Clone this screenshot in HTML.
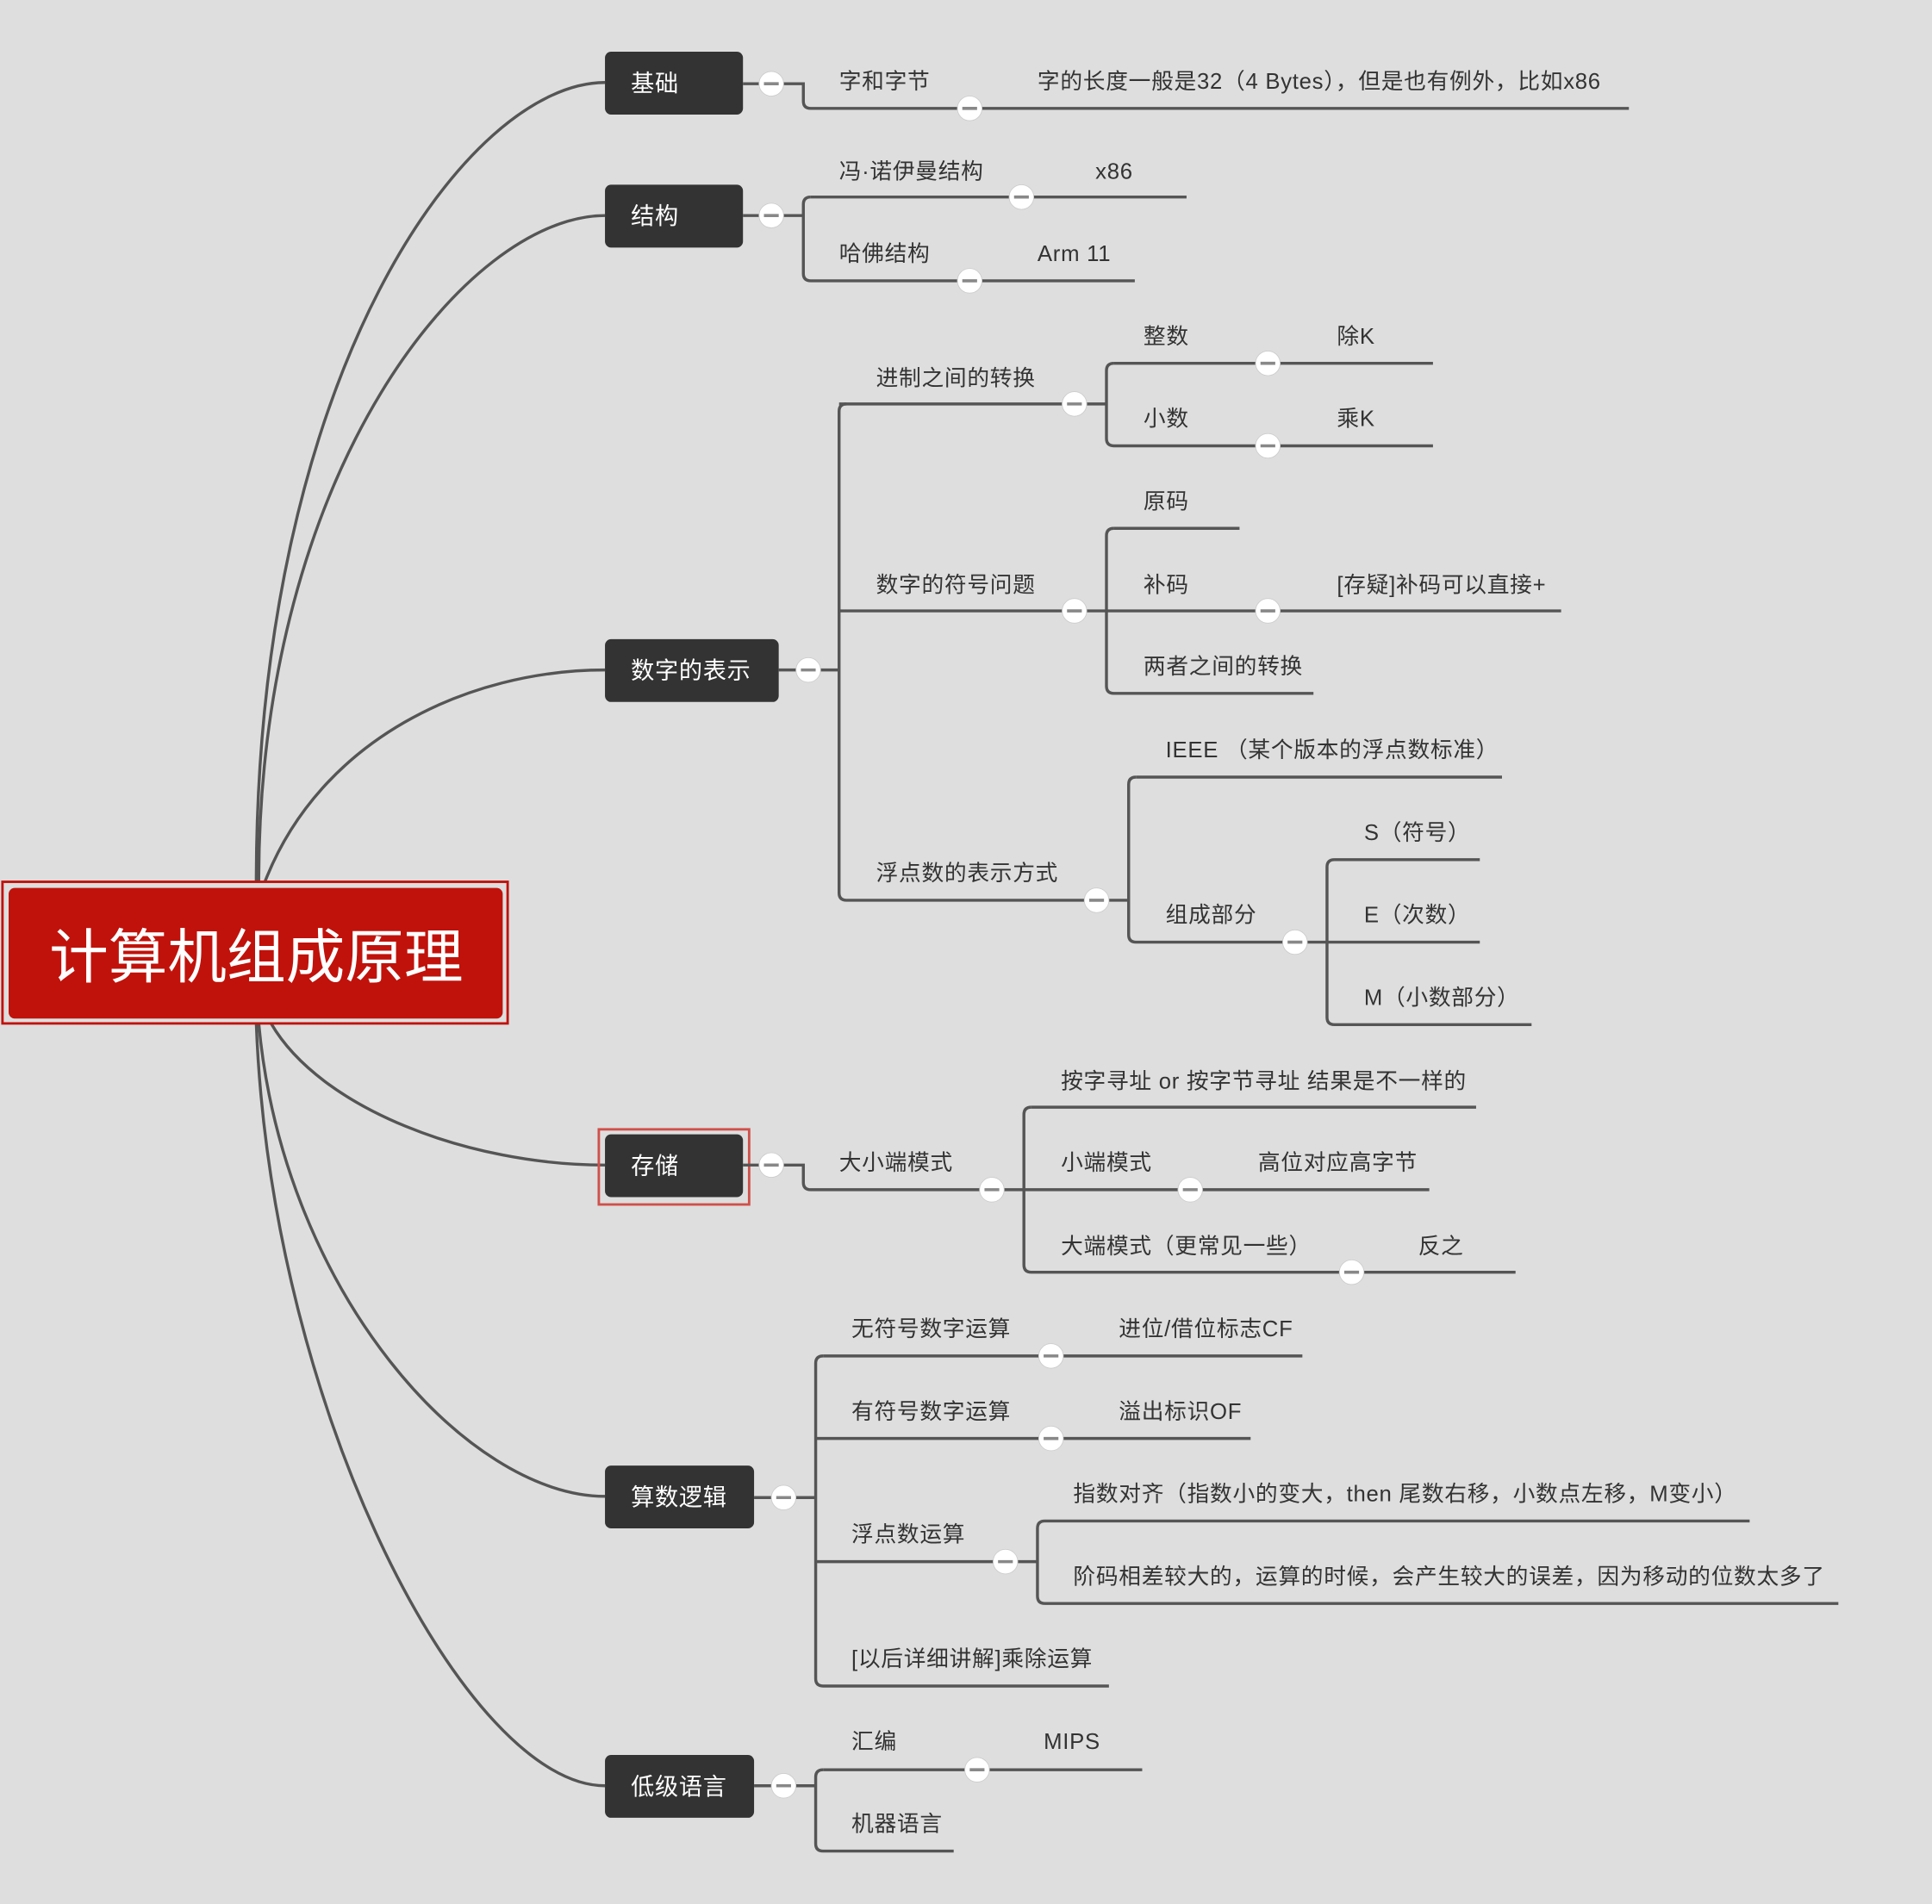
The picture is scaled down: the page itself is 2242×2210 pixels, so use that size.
<!DOCTYPE html>
<html><head><meta charset="utf-8"><style>
html,body{margin:0;padding:0;background:#dedede;}
svg{display:block}
text{font-family:"Liberation Sans","Noto Sans CJK SC",sans-serif;}
.t{font-size:18px;fill:#333;letter-spacing:0.5px}
.b{font-size:19px;fill:#fff;letter-spacing:0.5px}
.l{fill:none;stroke:#555;stroke-width:2.4}
</style></head><body>
<svg width="2242" height="2210" viewBox="0 0 1568 1546" preserveAspectRatio="none" xmlns="http://www.w3.org/2000/svg">
<defs>
<g id="m"><circle r="10" fill="#fff" stroke="#ccc" stroke-width="0.6"/><line x1="-6" y1="0" x2="6" y2="0" stroke="#888" stroke-width="2.5"/></g>
</defs>
<rect width="1568" height="1546" fill="#dedede"/>
<g class="l" stroke-width="2.6">
<path d="M208,716 C208,300 380,67 491,67"/>
<path d="M210,716 C210,380 380,175 491,175"/>
<path d="M215,716 C260,600 380,544 491,544"/>
<path d="M220,831 C260,900 380,946 491,946"/>
<path d="M210,831 C230,1050 380,1215 491,1215"/>
<path d="M208,831 C220,1150 380,1450 491,1450"/>
</g>
<rect x="2" y="716" width="410" height="115" fill="none" stroke="#c0120b" stroke-width="2"/>
<rect x="7" y="721" width="401" height="106" rx="5" fill="#c0120b"/>
<text x="40" y="794" style="font-size:48px;fill:#fff">计算机组成原理</text>
<rect x="491" y="42" width="112" height="51" rx="5" fill="#333"/><text class="b" x="512" y="74">基础</text>
<rect x="491" y="150" width="112" height="51" rx="5" fill="#333"/><text class="b" x="512" y="182">结构</text>
<rect x="491" y="519" width="141" height="51" rx="5" fill="#333"/><text class="b" x="512" y="551">数字的表示</text>
<rect x="486" y="917" width="122" height="61" fill="none" stroke="#d0504a" stroke-width="2"/>
<rect x="491" y="921" width="112" height="51" rx="5" fill="#333"/><text class="b" x="512" y="953">存储</text>
<rect x="491" y="1190" width="121" height="51" rx="5" fill="#333"/><text class="b" x="512" y="1222">算数逻辑</text>
<rect x="491" y="1425" width="121" height="51" rx="5" fill="#333"/><text class="b" x="512" y="1457">低级语言</text>

<g class="l">
<path d="M603,68 H652 V82 Q652,88 658,88 H1322"/>
<path d="M603,175 H652"/>
<path d="M658,160 Q652,160 652,166 V222 Q652,228 658,228 H921"/>
<path d="M658,160 H963"/>
<path d="M632,544 H681"/>
<path d="M687,328 Q681,328 681,334 V725 Q681,731 687,731 H890"/>
<path d="M681,496 H872"/><path d="M681,328 H872"/>
<path d="M872,328 H898"/>
<path d="M904,295 Q898,295 898,301 V356 Q898,362 904,362 H1163"/>
<path d="M904,295 H1163"/>
<path d="M872,496 H898"/>
<path d="M904,429 Q898,429 898,435 V557 Q898,563 904,563 H1066"/>
<path d="M904,429 H1006"/>
<path d="M898,496 H1267"/>
<path d="M890,731 H916"/>
<path d="M922,631 Q916,631 916,637 V759 Q916,765 922,765 H1051"/>
<path d="M922,631 H1219"/>
<path d="M1051,765 H1077"/>
<path d="M1083,698 Q1077,698 1077,704 V826 Q1077,832 1083,832 H1243"/>
<path d="M1083,698 H1201"/>
<path d="M1077,765 H1201"/>
<path d="M603,946 H652 V960 Q652,966 658,966 H805"/>
<path d="M805,966 H831"/>
<path d="M837,899 Q831,899 831,905 V1027 Q831,1033 837,1033 H1230"/>
<path d="M837,899 H1198"/>
<path d="M831,966 H1160"/>
<path d="M612,1216 H662"/>
<path d="M668,1101 Q662,1101 662,1107 V1363 Q662,1369 668,1369 H900"/>
<path d="M668,1101 H1057"/>
<path d="M662,1168 H1015"/>
<path d="M662,1268 H816"/>
<path d="M816,1268 H842"/>
<path d="M848,1235 Q842,1235 842,1241 V1296 Q842,1302 848,1302 H1492"/>
<path d="M848,1235 H1420"/>
<path d="M612,1450 H662"/>
<path d="M668,1437 Q662,1437 662,1443 V1497 Q662,1503 668,1503 H774"/>
<path d="M668,1437 H927"/>
</g>

<use href="#m" x="626" y="68"/><use href="#m" x="787" y="88"/>
<use href="#m" x="626" y="175"/><use href="#m" x="829" y="160"/><use href="#m" x="787" y="228"/>
<use href="#m" x="656" y="544"/><use href="#m" x="872" y="328"/><use href="#m" x="1029" y="295"/><use href="#m" x="1029" y="362"/>
<use href="#m" x="872" y="496"/><use href="#m" x="1029" y="496"/><use href="#m" x="890" y="731"/><use href="#m" x="1051" y="765"/>
<use href="#m" x="626" y="946"/><use href="#m" x="805" y="966"/><use href="#m" x="966" y="966"/><use href="#m" x="1097" y="1033"/>
<use href="#m" x="636" y="1216"/><use href="#m" x="853" y="1101"/><use href="#m" x="853" y="1168"/><use href="#m" x="816" y="1268"/>
<use href="#m" x="636" y="1450"/><use href="#m" x="793" y="1437"/>

<g class="t">
<text x="681" y="72">字和字节</text>
<text x="842" y="72">字的长度一般是32（4 Bytes），但是也有例外，比如x86</text>
<text x="681" y="145">冯·诺伊曼结构</text><text x="889" y="145">x86</text>
<text x="681" y="212">哈佛结构</text><text x="842" y="212">Arm 11</text>
<text x="711" y="313">进制之间的转换</text>
<text x="928" y="279">整数</text><text x="1085" y="279">除K</text>
<text x="928" y="346">小数</text><text x="1085" y="346">乘K</text>
<text x="711" y="481">数字的符号问题</text>
<text x="928" y="413">原码</text>
<text x="928" y="481">补码</text><text x="1085" y="481">[存疑]补码可以直接+</text>
<text x="928" y="547">两者之间的转换</text>
<text x="711" y="715">浮点数的表示方式</text>
<text x="946" y="615">IEEE （某个版本的浮点数标准）</text>
<text x="946" y="749">组成部分</text>
<text x="1107" y="682">S（符号）</text>
<text x="1107" y="749">E（次数）</text>
<text x="1107" y="816">M（小数部分）</text>
<text x="681" y="950">大小端模式</text>
<text x="861" y="884">按字寻址 or 按字节寻址 结果是不一样的</text>
<text x="861" y="950">小端模式</text><text x="1021" y="950">高位对应高字节</text>
<text x="861" y="1018">大端模式（更常见一些）</text><text x="1151" y="1018">反之</text>
<text x="691" y="1085">无符号数字运算</text><text x="908" y="1085">进位/借位标志CF</text>
<text x="691" y="1152">有符号数字运算</text><text x="908" y="1152">溢出标识OF</text>
<text x="691" y="1252">浮点数运算</text>
<text x="871" y="1219">指数对齐（指数小的变大，then 尾数右移，小数点左移，M变小）</text>
<text x="871" y="1286">阶码相差较大的，运算的时候，会产生较大的误差，因为移动的位数太多了</text>
<text x="691" y="1353">[以后详细讲解]乘除运算</text>
<text x="691" y="1420">汇编</text><text x="847" y="1420">MIPS</text>
<text x="691" y="1487">机器语言</text>
</g>
</svg>
</body></html>
